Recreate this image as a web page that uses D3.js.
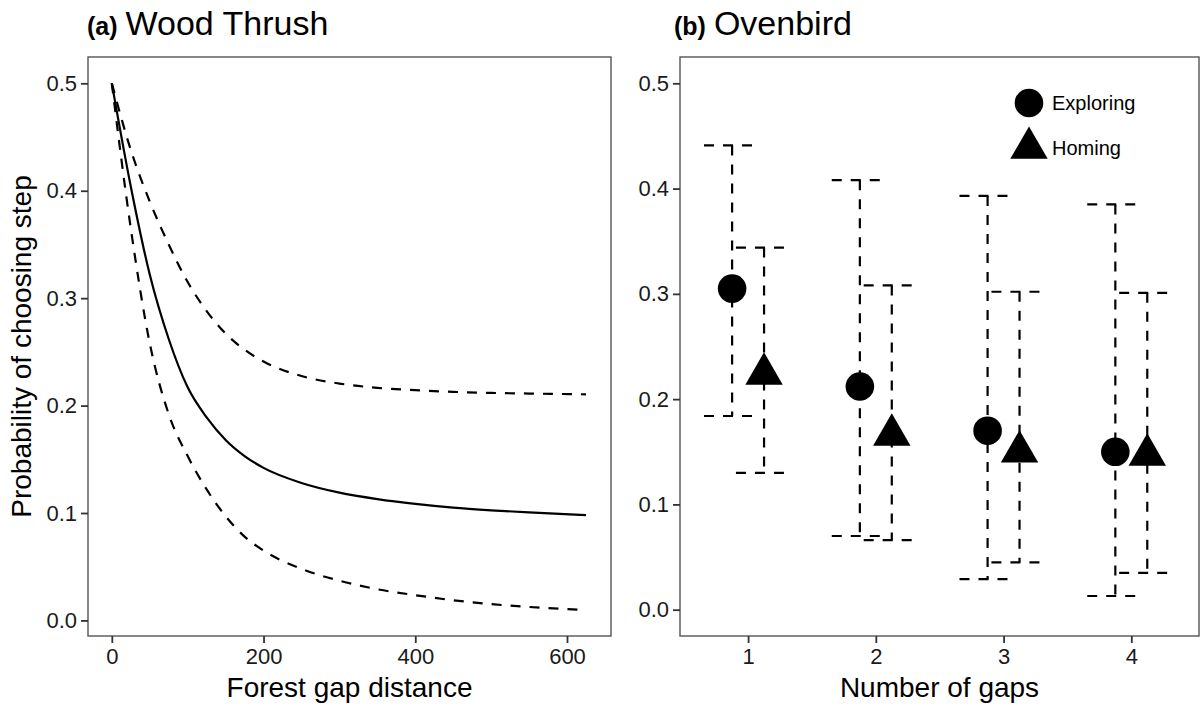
<!DOCTYPE html>
<html>
<head>
<meta charset="utf-8">
<script src="https://cdn.jsdelivr.net/npm/d3@7"></script>
<style>
  body { margin: 0; background: #fff; }
  text { font-family: "Liberation Sans", Arial, sans-serif; }
</style>
</head>
<body>
<div id="chart"></div>
<script>
'use strict';

// (a) Wood Thrush - fitted curve and its band
var gapDistance = [0, 25, 50, 75, 100, 125, 150, 175, 200, 250, 300, 350, 400, 450, 500, 550, 625];
var probMean    = [0.5, 0.404, 0.322, 0.262, 0.217, 0.189, 0.168, 0.153, 0.142, 0.128, 0.119, 0.113, 0.1085, 0.105, 0.1025, 0.1005, 0.098];
var probUpper   = [0.5, 0.438, 0.390, 0.350, 0.315, 0.288, 0.267, 0.252, 0.241, 0.2275, 0.2205, 0.2165, 0.2143, 0.2128, 0.2118, 0.2112, 0.2105];
var probLower   = [0.5, 0.365, 0.258, 0.192, 0.153, 0.122, 0.097, 0.078, 0.065, 0.048, 0.037, 0.029, 0.0235, 0.0188, 0.0152, 0.0125, 0.0097];
var distTicks   = [0, 200, 400, 600];

// (b) Ovenbird - estimates with intervals by number of gaps
var gapCounts      = [1, 2, 3, 4];
var exploringMean  = [0.305, 0.212, 0.170, 0.150];
var exploringUpper = [0.441, 0.408, 0.393, 0.385];
var exploringLower = [0.184, 0.070, 0.029, 0.013];
var homingMean     = [0.224, 0.166, 0.150, 0.147];
var homingUpper    = [0.344, 0.308, 0.302, 0.301];
var homingLower    = [0.130, 0.066, 0.045, 0.035];
var groups         = ['Exploring', 'Homing'];

var probTicks = [0, 0.1, 0.2, 0.3, 0.4, 0.5];

var W = 1203, H = 707;
var plotTop = 57, plotBottom = 636;
var boxA = {left: 88, right: 611};
var boxB = {left: 680, right: 1199};
var dash = '10,9';

var svg = d3.select('#chart').append('svg')
    .attr('width', W)
    .attr('height', H);

function drawAxes(box, x, y, xTicks, xFmt)
{
    svg.append('rect')
        .attr('x', box.left)
        .attr('y', plotTop)
        .attr('width', box.right - box.left)
        .attr('height', plotBottom - plotTop)
        .attr('fill', 'none')
        .attr('stroke', '#555')
        .attr('stroke-width', 1.4);

    var ax = svg.append('g')
        .attr('transform', 'translate(0,' + plotBottom + ')')
        .call(d3.axisBottom(x).tickValues(xTicks).tickFormat(xFmt).tickSize(7).tickPadding(5));
    var ay = svg.append('g')
        .attr('transform', 'translate(' + box.left + ',0)')
        .call(d3.axisLeft(y).tickValues(probTicks).tickFormat(d3.format('.1f')).tickSize(7).tickPadding(4));

    [ax, ay].forEach(function(g){
        g.select('.domain').remove();
        g.selectAll('.tick line').attr('stroke', '#333').attr('stroke-width', 1.8);
        g.selectAll('.tick text')
            .attr('fill', '#1a1a1a')
            .style('font-size', '22px')
            .style('font-family', '"Liberation Sans", Arial, sans-serif');
    });
}

function drawTitle(x, tag, name)
{
    var t = svg.append('text')
        .attr('x', x)
        .attr('y', 35)
        .attr('fill', '#000');
    t.append('tspan').style('font-weight', 'bold').style('font-size', '25px').text(tag);
    t.append('tspan').attr('dx', 8).style('font-size', '34px').text(name);
}

function drawXLabel(box, label)
{
    svg.append('text')
        .attr('x', (box.left + box.right) / 2)
        .attr('y', 697)
        .attr('text-anchor', 'middle')
        .style('font-size', '28px')
        .text(label);
}

// ---------- panel (a)
var xA = d3.scaleLinear().domain([-31.4, 658]).range([boxA.left, boxA.right]);
var yA = d3.scaleLinear().domain([-0.0145, 0.5245]).range([plotBottom, plotTop]);

drawAxes(boxA, xA, yA, distTicks, d3.format('d'));
drawTitle(boxA.left - 1, '(a)', 'Wood Thrush');
drawXLabel(boxA, 'Forest gap distance');

svg.append('text')
    .attr('transform', 'translate(31,' + ((plotTop + plotBottom) / 2) + ') rotate(-90)')
    .attr('text-anchor', 'middle')
    .style('font-size', '28px')
    .text('Probability of choosing step');

var curve = d3.line()
    .x(function(d){ return xA(d[0]); })
    .y(function(d){ return yA(d[1]); })
    .curve(d3.curveMonotoneX);

[[probUpper, true], [probLower, true], [probMean, false]].forEach(function(s){
    svg.append('path')
        .datum(d3.zip(gapDistance, s[0]))
        .attr('d', curve)
        .attr('fill', 'none')
        .attr('stroke', '#000')
        .attr('stroke-width', 2.2)
        .attr('stroke-dasharray', s[1] ? dash : null);
});

// ---------- panel (b)
var xB = d3.scaleLinear().domain([0.467, 4.53]).range([boxB.left, boxB.right]);
var yB = d3.scaleLinear().domain([-0.025, 0.525]).range([plotBottom, plotTop]);

drawAxes(boxB, xB, yB, gapCounts, d3.format('d'));
drawTitle(boxB.left - 6, '(b)', 'Ovenbird');
drawXLabel(boxB, 'Number of gaps');

var dodge = {Exploring: -0.125, Homing: 0.125};
var capHalf = 0.19, capShift = -0.03;

var rows = [];
gapCounts.forEach(function(g, i){
    rows.push({group: 'Exploring', gap: g, mean: exploringMean[i], lo: exploringLower[i], hi: exploringUpper[i]});
    rows.push({group: 'Homing', gap: g, mean: homingMean[i], lo: homingLower[i], hi: homingUpper[i]});
});

var shape = d3.scaleOrdinal().domain(groups).range([d3.symbolCircle, d3.symbolTriangle]);
var shapeSize = d3.scaleOrdinal().domain(groups).range([642, 606]);

var bars = svg.append('g')
    .attr('stroke', '#000')
    .attr('stroke-width', 2.2)
    .attr('stroke-dasharray', dash);

rows.forEach(function(r){
    var xc = r.gap + dodge[r.group];
    var segs = [
        [xc + capShift - capHalf, r.hi, xc + capShift + capHalf, r.hi],
        [xc, r.hi, xc, r.lo],
        [xc + capShift - capHalf, r.lo, xc + capShift + capHalf, r.lo]
    ];
    segs.forEach(function(s){
        bars.append('line')
            .attr('x1', xB(s[0])).attr('y1', yB(s[1]))
            .attr('x2', xB(s[2])).attr('y2', yB(s[3]));
    });
});

svg.append('g').selectAll('path')
    .data(rows)
    .enter().append('path')
    .attr('transform', function(r){ return 'translate(' + xB(r.gap + dodge[r.group]) + ',' + yB(r.mean) + ')'; })
    .attr('d', function(r){ return d3.symbol(shape(r.group), shapeSize(r.group))(); })
    .attr('fill', '#000');

// legend, top right of panel (b)
var legend = svg.append('g').attr('transform', 'translate(' + (boxB.right - 170) + ',' + (plotTop + 46) + ')');
var item = legend.selectAll('g')
    .data(groups)
    .enter().append('g')
    .attr('transform', function(d, i){ return 'translate(0,' + (i * 45) + ')'; });
item.append('path')
    .attr('d', function(d){ return d3.symbol(shape(d), shapeSize(d))(); })
    .attr('fill', '#000');
item.append('text')
    .attr('x', 23)
    .attr('dy', '0.35em')
    .style('font-size', '20px')
    .text(function(d){ return d; });
</script>
</body>
</html>
